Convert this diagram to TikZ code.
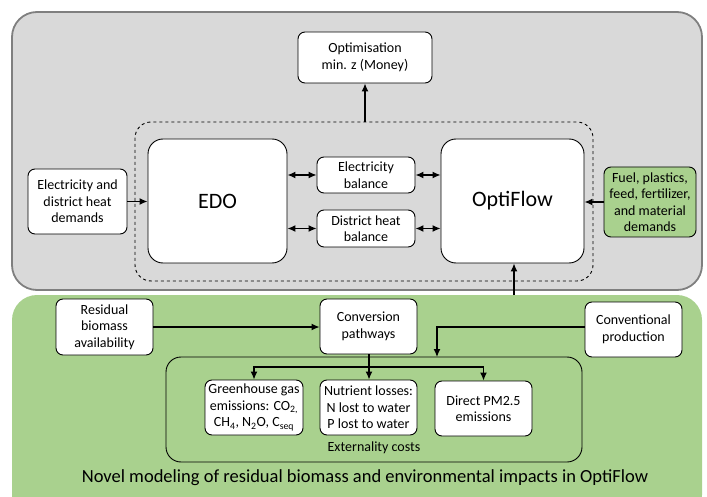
\documentclass[tikz,border=0pt]{standalone}
\usepackage{fontspec}
\setmainfont{Carlito}
\usetikzlibrary{arrows.meta}

\definecolor{panelgray}{HTML}{D9D9D9}
\definecolor{panelborder}{HTML}{7F7F7F}
\definecolor{leafgreen}{HTML}{A9D18E}

\tikzset{
  box/.style={draw=black, line width=0.9pt, rounded corners=7pt, fill=white,
    align=center, inner sep=0pt, font=\fontsize{14}{16.5}\selectfont},
  bigbox/.style={box, rounded corners=15pt, font=\fontsize{22}{26}\selectfont},
  tip/.tip={Latex[length=8pt,width=7pt]},
  flow/.style={line width=1.3pt, -tip},
  biflow/.style={line width=1.3pt, tip-tip},
}

% a box from its corners: name, x1, y1, x2, y2, style, text
\newcommand{\cbox}[7]{%
  \node[#6, minimum width=#4pt-#2pt, minimum height=#5pt-#3pt]
    (#1) at ({(#2+#4)/2}, {(#3+#5)/2}) {#7};}

\begin{document}
\begin{tikzpicture}[x=1pt, y=-1pt]
\useasboundingbox (0,0) rectangle (707,497);

% panels
\begin{scope}
\clip (0,0) rectangle (707,497);
\fill[leafgreen, rounded corners=25pt] (12,295) rectangle (702,520);
\end{scope}
\draw[panelborder, fill=panelgray, line width=1.8pt, rounded corners=25pt]
  (12,12) rectangle (702,290);

% coupled model frame
\draw[dashed, line width=0.9pt, rounded corners=16pt] (135,122) rectangle (593,281);
\coordinate (frametop) at (365,122);

% upper nodes
\cbox{opt}{298}{32}{432}{83}{box}{Optimisation\\min. z (Money)}
\cbox{edo}{148}{139}{287}{263}{bigbox}{EDO}
\cbox{optiflow}{441}{139}{584}{263}{bigbox}{OptiFlow}
\cbox{elbal}{317}{157}{415}{193}{box}{Electricity\\balance}
\cbox{dhbal}{317}{210}{415}{247}{box}{District heat\\balance}
\cbox{eldem}{28}{169}{127}{234}{box}{Electricity and\\district heat\\demands}
\cbox{matdem}{604}{167}{696}{237}{box, fill=leafgreen}{Fuel, plastics,\\feed, fertilizer,\\and material\\demands}

% lower nodes
\draw[line width=0.9pt, rounded corners=15pt] (166,357) rectangle (582,462);
\node[font=\fontsize{14}{16.5}\selectfont] (extlabel) at (374,448) {Externality costs};
\coordinate (exttop) at (437,357);
\cbox{resid}{56}{299}{153}{355}{box}{Residual\\biomass\\availability}
\cbox{conv}{320}{299}{417}{354}{box}{Conversion\\pathways}
\cbox{convprod}{585}{302}{682}{357}{box}{Conventional\\production}
\cbox{ghg}{205}{380}{303}{435}{box}{Greenhouse gas\\emissions: CO\textsubscript{2,}\\CH\textsubscript{4}, N\textsubscript{2}O, C\textsubscript{seq}}
\cbox{nutr}{320}{380}{417}{435}{box}{Nutrient losses:\\N lost to water\\P lost to water}
\cbox{pm}{435}{381}{532}{436}{box}{Direct PM2.5\\emissions}

\node[font=\fontsize{18.5}{22}\selectfont] (caption) at (365,478)
  {Novel modeling of residual biomass and environmental impacts in OptiFlow};

% connectors, upper panel
\draw[flow] (frametop) -- (opt.south);
\draw[flow] (eldem.east) -- (eldem.east -| edo.west);
\draw[flow] (matdem.west) -- (matdem.west -| optiflow.east);
\draw[biflow] (elbal.west -| edo.east) -- (elbal.west);
\draw[biflow] (elbal.east) -- (elbal.east -| optiflow.west);
\draw[biflow] (dhbal.west -| edo.east) -- (dhbal.west);
\draw[biflow] (dhbal.east) -- (dhbal.east -| optiflow.west);

% connectors, lower panel
\coordinate (greenedge) at (514,295);
\draw[flow] (greenedge) -- (greenedge |- optiflow.south);
\draw[flow] (resid.east |- 0,327) -- (conv.west |- 0,327);
\draw[flow] (convprod.west |- 0,327) -| (exttop);
\coordinate (split) at (369,367);
\draw[flow] (conv.south -| split) -- (split) -- (nutr.north -| split);
\draw[flow] (split) -| (ghg.north);
\draw[flow] (split) -| (pm.north);
\end{tikzpicture}
\end{document}
